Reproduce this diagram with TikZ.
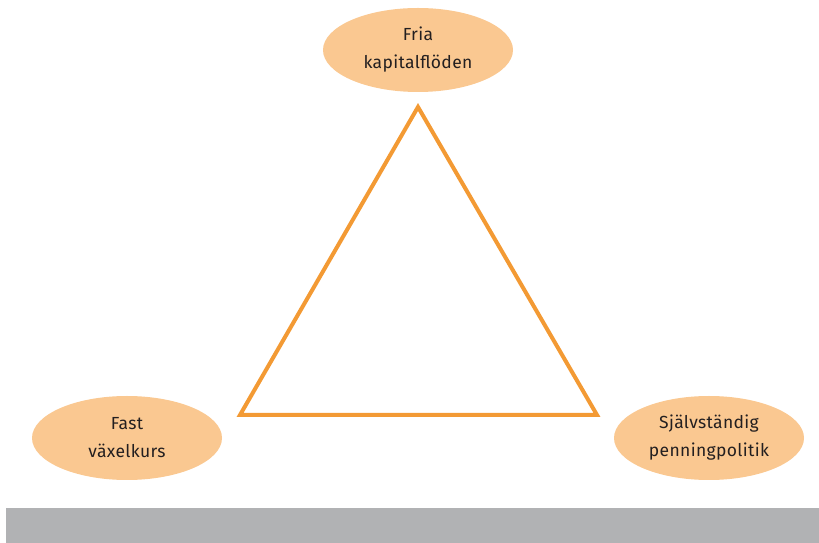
\documentclass[tikz,border=0pt]{standalone}
\usepackage{fontspec}
\setmainfont{Fira Sans}[LetterSpace=2]
\usetikzlibrary{shapes.geometric}
\definecolor{ellfill}{HTML}{FAC891}
\definecolor{triorange}{HTML}{F39A34}
\definecolor{bargray}{HTML}{B1B2B4}
\definecolor{txt}{HTML}{231F20}
\begin{document}
\begin{tikzpicture}[x=1pt,y=1pt,
  goal/.style={ellipse, fill=ellfill, minimum width=190pt, minimum height=84pt, inner sep=0pt,
    text=txt, align=center, font=\fontsize{17.5}{28}\selectfont},
  tri/.style={draw=triorange, line width=4pt, line join=miter}]
\useasboundingbox (0,0) rectangle (819,543);
\fill[bargray] (6,0) rectangle (819,35);
\node[goal] (top) at (418,493) {Fria\\kapitalflöden};
\node[goal] (left) at (127,105) {Fast\\växelkurs};
\node[goal] (right) at (709,105) {Självständig\\penningpolitik};
\coordinate (A) at (418,436);
\coordinate (B) at (240,128);
\coordinate (C) at (597,128);
\draw[tri] (A) -- (B) -- (C) -- cycle;
\end{tikzpicture}
\end{document}
